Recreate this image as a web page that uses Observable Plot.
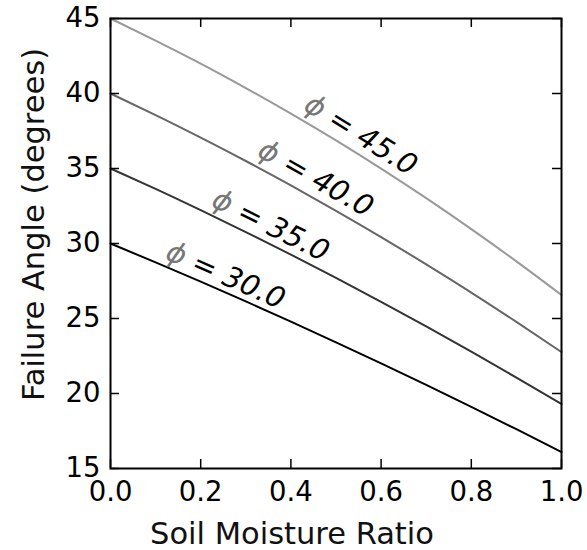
<!DOCTYPE html>
<html><head><meta charset="utf-8">
<script src="https://cdn.jsdelivr.net/npm/d3@7"></script>
<script src="https://cdn.jsdelivr.net/npm/@observablehq/plot@0.6"></script>
<style>
html,body{margin:0;padding:0;background:#fff}
</style>
</head><body><div id="chart"></div>
<script>
// ---- data ----
const moisture = [0, 0.1, 0.2, 0.3, 0.4, 0.5, 0.6, 0.7, 0.8, 0.9, 1.0];
const angle30 = [30.0, 28.74, 27.46, 26.14, 24.79, 23.41, 22.01, 20.57, 19.11, 17.62, 16.10];
const angle35 = [35.0, 33.64, 32.22, 30.76, 29.26, 27.71, 26.11, 24.47, 22.79, 21.06, 19.30];
const angle40 = [40.0, 38.56, 37.06, 35.50, 33.87, 32.18, 30.43, 28.61, 26.73, 24.77, 22.76];
const angle45 = [45.0, 43.53, 41.99, 40.36, 38.66, 36.87, 34.99, 33.02, 30.96, 28.81, 26.57];
const phis = [30, 35, 40, 45];
const phiLabels = ["30.0", "35.0", "40.0", "45.0"];
const xTicks = [0, 0.2, 0.4, 0.6, 0.8, 1.0];
const yTicks = [15, 20, 25, 30, 35, 40, 45];

// ---- layout / style ----
const W = 587, H = 550;
const mL = 110, mR = 26, mT = 18, mB = 82;
const innerW = W - mL - mR, innerH = H - mT - mB;
const tickLen = 9;
const greys = ["#000000", "#333333", "#666666", "#999999"];
const labelAtX = [0.255, 0.355, 0.455, 0.555];   // where each inline label sits
const labelLift = [17, 19, 21, 21];               // px above the curve

const series = [angle30, angle35, angle40, angle45];
const rows = [];
series.forEach((s, i) => s.forEach((v, j) => rows.push({x: moisture[j], y: v, phi: phis[i]})));

function interp(s, x) {
  for (let j = 0; j < moisture.length - 1; j++) {
    if (x >= moisture[j] && x <= moisture[j + 1]) {
      const t = (x - moisture[j]) / (moisture[j + 1] - moisture[j]);
      return {y: s[j] + t * (s[j + 1] - s[j]), slope: (s[j + 1] - s[j]) / (moisture[j + 1] - moisture[j])};
    }
  }
  return {y: s[s.length - 1], slope: 0};
}
const pxPerX = innerW / 1, pxPerY = innerH / 30;
const labels = phis.map((p, i) => {
  const r = interp(series[i], labelAtX[i]);
  const rot = Math.atan(-r.slope * pxPerY / pxPerX) * 180 / Math.PI;
  return {x: labelAtX[i], y: r.y, text: "ϕ = " + phiLabels[i], rot, lift: labelLift[i]};
});

const plot = Plot.plot({
  width: W, height: H,
  marginLeft: mL, marginRight: mR, marginTop: mT, marginBottom: mB,
  style: {fontFamily: "DejaVu Sans", fontSize: "27.5px", background: "#fff", color: "#000"},
  x: {domain: [0, 1]},
  y: {domain: [15, 45]},
  color: {type: "ordinal", domain: phis, range: greys},
  marks: [
    Plot.line(rows, {x: "x", y: "y", z: "phi", stroke: "phi", strokeWidth: 2, curve: "natural"}),
    // inward ticks on all four sides
    Plot.ruleX(xTicks, {x: d => d, insetTop: innerH - tickLen, stroke: "#000", strokeWidth: 1.5}),
    Plot.ruleX(xTicks, {x: d => d, insetBottom: innerH - tickLen, stroke: "#000", strokeWidth: 1.5}),
    Plot.ruleY(yTicks, {y: d => d, insetRight: innerW - tickLen, stroke: "#000", strokeWidth: 1.5}),
    Plot.ruleY(yTicks, {y: d => d, insetLeft: innerW - tickLen, stroke: "#000", strokeWidth: 1.5}),
    Plot.frame({stroke: "#000", strokeWidth: 2}),
    // tick labels
    Plot.axisX(xTicks, {anchor: "bottom", tickSize: 0, tickPadding: 13, tickFormat: d3.format(".1f"), label: null, fontSize: 27.5}),
    Plot.axisY(yTicks, {anchor: "left", tickSize: 0, tickPadding: 10, tickFormat: d3.format("d"), label: null, fontSize: 27.5}),
    // axis titles
    Plot.text(["Soil Moisture Ratio"], {frameAnchor: "bottom", dx: -44, dy: 75, lineAnchor: "bottom", fontSize: 30.5, fill: "#111"}),
    Plot.text(["Failure Angle (degrees)"], {frameAnchor: "left", rotate: -90, dx: -67, dy: -19, textAnchor: "middle", lineAnchor: "bottom", fontSize: 30.5, fill: "#111"}),
    // inline labels
    Plot.text(labels, {x: "x", y: "y", text: "text", rotate: "rot", fontStyle: "italic", fontSize: 29, textAnchor: "middle", lineAnchor: "middle", fill: "#000"})
  ]
});

// lift labels above the curve and grey the phi glyph
d3.select(plot).selectAll("text").each(function() {
  const t = this.textContent;
  if (t.startsWith("ϕ")) {
    const lab = labels.find(l => l.text === t);
    const tr = this.getAttribute("transform") || "";
    this.setAttribute("transform", "translate(0," + (-lab.lift) + ") " + tr);
    const rest = t.slice(1);
    this.textContent = "";
    const sp = document.createElementNS("http://www.w3.org/2000/svg", "tspan");
    sp.setAttribute("fill", "#777");
    sp.textContent = "ϕ";
    this.appendChild(sp);
    this.appendChild(document.createTextNode(rest));
  }
});

document.getElementById("chart").appendChild(plot);
</script>
</body></html>
